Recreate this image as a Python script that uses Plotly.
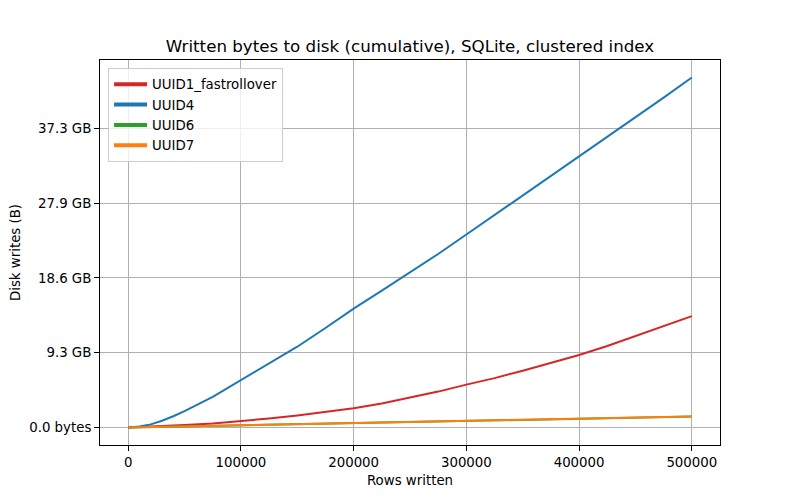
import plotly.graph_objects as go

# Rows written
rows = [0, 10000, 20000, 30000, 40000, 50000, 75000, 100000, 125000, 150000, 175000,
        200000, 225000, 250000, 275000, 300000, 325000, 350000, 375000, 400000,
        425000, 450000, 475000, 500000]

# Cumulative disk writes, in units of 1e9 bytes
uuid1_fastrollover = [0, 0.05, 0.1, 0.17, 0.25, 0.33, 0.55, 0.84, 1.2, 1.6, 2.05,
                      2.57, 3.2, 3.96, 4.8, 5.73, 6.6, 7.6, 8.6, 9.69,
                      10.9, 12.2, 13.5, 14.9]
uuid4 = [0, 0.12, 0.42, 0.9, 1.5, 2.2, 4.1, 6.3, 8.5, 10.8, 13.3,
         15.9, 18.3, 20.7, 23.2, 25.8, 28.4, 31.0, 33.6, 36.2,
         38.8, 41.4, 44.1, 46.8]
uuid6 = [0, 0.03, 0.06, 0.09, 0.12, 0.15, 0.24, 0.33, 0.40, 0.47, 0.54,
         0.61, 0.67, 0.74, 0.81, 0.88, 0.96, 1.04, 1.13, 1.23,
         1.29, 1.35, 1.41, 1.46]
uuid7 = [0, 0.03, 0.07, 0.1, 0.13, 0.16, 0.25, 0.34, 0.41, 0.48, 0.55,
         0.62, 0.68, 0.75, 0.82, 0.89, 0.97, 1.05, 1.14, 1.24,
         1.3, 1.36, 1.42, 1.47]

series_names = ["UUID1_fastrollover", "UUID4", "UUID6", "UUID7"]
series_values = [uuid1_fastrollover, uuid4, uuid6, uuid7]
colors = ["#d62728", "#1f77b4", "#2ca02c", "#ff7f0e"]

y_tickvals = [0, 1e10, 2e10, 3e10, 4e10]
y_ticktext = ["0.0 bytes", "9.3 GB", "18.6 GB", "27.9 GB", "37.3 GB"]
x_tickvals = [0, 100000, 200000, 300000, 400000, 500000]
x_ticktext = ["0", "100000", "200000", "300000", "400000", "500000"]

FONT = "DejaVu Sans"
FS = 13.33

fig = go.Figure()
for name, vals, col in zip(series_names, series_values, colors):
    fig.add_trace(go.Scatter(
        x=rows, y=[v * 1e9 for v in vals], mode="lines", name=name,
        line=dict(color=col, width=2), showlegend=False, hoverinfo="x+y"))
# legend entries with thicker lines (as in the reference legend)
for name, col in zip(series_names, colors):
    fig.add_trace(go.Scatter(
        x=[None], y=[None], mode="lines", name=name,
        line=dict(color=col, width=4), showlegend=True))

ymax = max(uuid4) * 1e9
# page body adds an 8px offset; margins compensate so the plot area sits at 100..720 x 60..445
fig.update_layout(
    width=800, height=500,
    paper_bgcolor="white", plot_bgcolor="white",
    margin=dict(l=92, r=88, t=52, b=63),
    font=dict(family=FONT, size=FS, color="#000000"),
    title=dict(text="Written bytes to disk (cumulative), SQLite, clustered index",
               x=0.5, xref="paper", xanchor="center",
               y=(500 - 38) / 500, yref="container", yanchor="middle",
               font=dict(family=FONT, size=16.7, color="#000000")),
    showlegend=True,
    legend=dict(x=0.013, y=0.979, xanchor="left", yanchor="top",
                bgcolor="rgba(255,255,255,0.8)", bordercolor="#cccccc", borderwidth=1,
                font=dict(family=FONT, size=FS), tracegroupgap=0, itemwidth=33),
    xaxis=dict(range=[-25000, 525000], tickvals=x_tickvals, ticktext=x_ticktext,
               automargin=False,
               showgrid=True, gridcolor="#b0b0b0", gridwidth=1,
               zeroline=False, showline=True, linecolor="black", linewidth=1, mirror=True,
               ticks="outside", ticklen=5, tickcolor="black",
               title=dict(text="Rows written", standoff=6, font=dict(family=FONT, size=FS)),
               tickfont=dict(family=FONT, size=FS)),
    yaxis=dict(range=[-0.05 * ymax, 1.05 * ymax], tickvals=y_tickvals, ticktext=y_ticktext,
               automargin=False,
               showgrid=True, gridcolor="#b0b0b0", gridwidth=1,
               zeroline=False, showline=True, linecolor="black", linewidth=1, mirror=True,
               ticks="outside", ticklen=5, tickcolor="black",
               title=dict(text="Disk writes (B)", standoff=9, font=dict(family=FONT, size=FS)),
               tickfont=dict(family=FONT, size=FS)),
)

fig.write_html("out.html")
